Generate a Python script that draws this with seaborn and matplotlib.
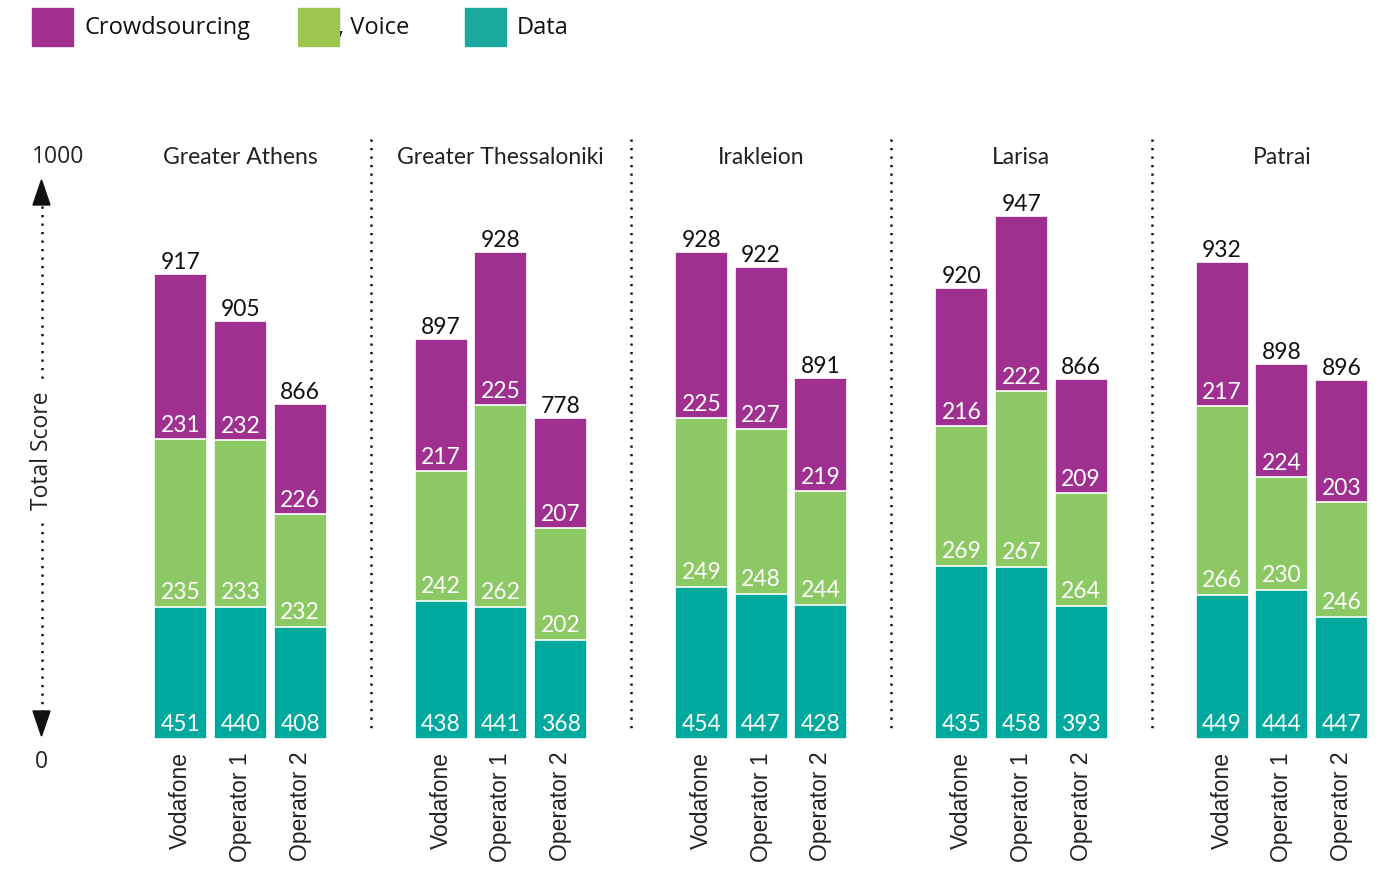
import numpy as np
import pandas as pd
import matplotlib
matplotlib.use("Agg")
import matplotlib.pyplot as plt
import seaborn as sns
from matplotlib.patches import Rectangle, Polygon

# ---------------- data ----------------
regions = ["Greater Athens", "Greater Thessaloniki", "Irakleion", "Larisa", "Patrai"]
operators = ["Vodafone", "Operator 1", "Operator 2"]
series = ["Crowdsourcing", ", Voice", "Data"]

# printed scores, per region in order Vodafone, Operator 1, Operator 2
data_scores = [451, 440, 408, 438, 441, 368, 454, 447, 428, 435, 458, 393, 449, 444, 447]
voice_scores = [235, 233, 232, 242, 262, 202, 249, 248, 244, 269, 267, 264, 266, 230, 246]
crowd_scores = [231, 232, 226, 217, 225, 207, 225, 227, 219, 216, 222, 209, 217, 224, 203]
total_scores = [917, 905, 866, 897, 928, 778, 928, 922, 891, 920, 947, 866, 932, 898, 896]

# segment heights as drawn in the picture (the bars are not drawn to the printed scores)
data_h = [132, 132, 112, 138, 132, 99, 152, 145, 134, 173, 172, 133, 144, 149, 122]
voice_h = [168, 167, 113, 130, 202, 112, 169, 165, 114, 140, 176, 113, 189, 113, 115]
crowd_h = [165, 119, 110, 132, 153, 110, 166, 162, 113, 138, 175, 114, 144, 113, 122]

# ---------------- style ----------------
C_CROWD = "#A03090"
C_VOICE = "#8CC864"
C_DATA = "#00A99D"
L_CROWD = "#A33090"
L_VOICE = "#9DC650"
L_DATA = "#1AA99E"

NUM_FONT = "Lato"
TICK_FONT = "Liberation Sans"
UI_FONT = "Open Sans"

W, H = 1392, 870
BASE = 740            # baseline pixel row from top
G0, GP, BP, BW = 240.5, 260.3, 59.7, 53

sns.set_theme(style="white")
plt.rcParams["font.family"] = ["Lato", "DejaVu Sans"]

fig = plt.figure(figsize=(W / 100, H / 100), dpi=100)
ax = fig.add_axes([0, 0, 1, 1])

n_reg, n_op = len(regions), len(operators)
rows = []
for g in range(n_reg):
    for i in range(n_op):
        k = g * n_op + i
        rows.append(dict(region=regions[g], operator=operators[i],
                         x=G0 + g * GP + (i - 1) * BP,
                         d=data_h[k], v=voice_h[k], c=crowd_h[k]))
df = pd.DataFrame(rows)
df["top_c"] = df["d"] + df["v"] + df["c"]
df["top_v"] = df["d"] + df["v"]
df["top_d"] = df["d"]

rel_w = BW / BP
for col, colr in [("top_c", C_CROWD), ("top_v", C_VOICE), ("top_d", C_DATA)]:
    sns.barplot(data=df, x="x", y=col, native_scale=True, width=rel_w,
                color=colr, saturation=1, errorbar=None,
                edgecolor="white", linewidth=1.2, ax=ax)

ax.set_xlim(0, W)
ax.set_ylim(BASE - H, BASE)
ax.axis("off")

def py(ypx):
    return BASE - ypx

# value labels
for k, r in df.iterrows():
    x = r["x"]
    ax.text(x, 9, str(data_scores[k]), ha="center", va="baseline",
            color="white", fontsize=16.5, family=NUM_FONT)
    ax.text(x, r["d"] + 9, str(voice_scores[k]), ha="center", va="baseline",
            color="white", fontsize=16.5, family=NUM_FONT)
    ax.text(x, r["top_v"] + 8, str(crowd_scores[k]), ha="center", va="baseline",
            color="white", fontsize=16.5, family=NUM_FONT)
    ax.text(x, r["top_c"] + 6, str(total_scores[k]), ha="center", va="baseline",
            color="#111111", fontsize=16.5, family=NUM_FONT)
    ax.text(x, py(752), r["operator"], ha="center", va="top", rotation=90,
            color="#222222", fontsize=16.5, family=TICK_FONT)

# region titles and separators
for g, name in enumerate(regions):
    ax.text(G0 + g * GP, py(157), name, ha="center", va="center",
            color="#222222", fontsize=16.5, family=NUM_FONT)
for g in range(n_reg - 1):
    xs = G0 + g * GP + GP / 2
    ax.plot([xs, xs], [py(140), py(730)], color="#111111", lw=1.8,
            linestyle=(0, (0.9, 2.5)))

# left axis annotation
AX = 41.5
ax.text(58, py(157), "1000", ha="center", va="center", color="#222222",
        fontsize=16.5, family=UI_FONT)
ax.text(AX, py(762), "0", ha="center", va="center", color="#222222",
        fontsize=16.5, family=UI_FONT)
ax.text(AX, py(451), "Total Score", ha="center", va="center", rotation=90,
        color="#222222", fontsize=16.5, family=UI_FONT)
for y0, y1 in [(207, 384), (524, 712)]:
    ax.plot([AX, AX], [py(y0), py(y1)], color="#111111", lw=1.8,
            linestyle=(0, (0.9, 2.5)))
ax.add_patch(Polygon([[AX, py(181)], [AX - 8.5, py(206)], [AX + 8.5, py(206)]],
                     closed=True, color="#111111"))
ax.add_patch(Polygon([[AX, py(737)], [AX - 8.5, py(712)], [AX + 8.5, py(712)]],
                     closed=True, color="#111111"))

# legend
leg = [(32, L_CROWD, series[0], 84), (298, L_VOICE, series[1], 338), (465, L_DATA, series[2], 517)]
for x0, colr, lab, tx in leg:
    ax.text(tx, py(28), lab, ha="left", va="center", color="#111111",
            fontsize=17, family=UI_FONT, zorder=3)
    ax.add_patch(Rectangle((x0, py(47)), 41, 38, color=colr, zorder=4))

fig.savefig("out.png", dpi=100)
